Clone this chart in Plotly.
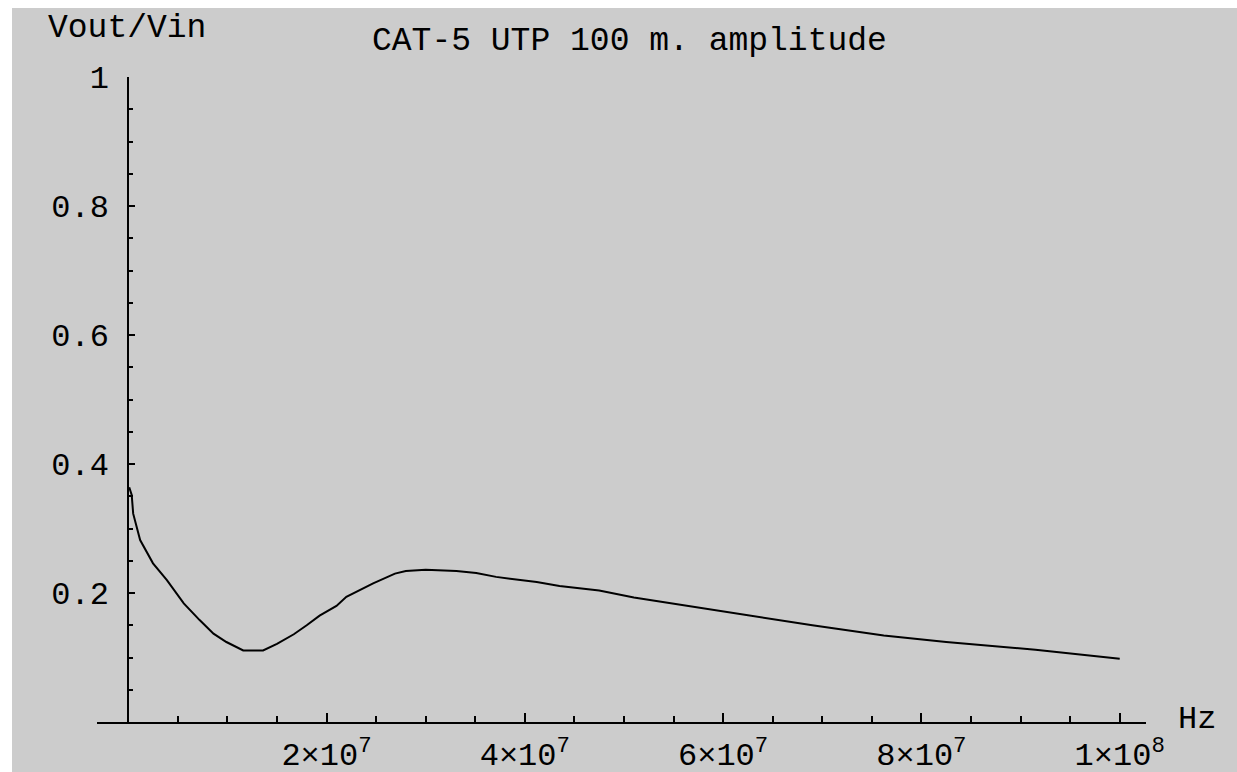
import plotly.graph_objects as go

# ---- data ----
freq_mhz = [0.1, 0.35, 0.5, 0.85, 1.2, 2.5, 3.9, 5.6, 7.2, 8.6, 9.9, 11.6, 13.6,
            15.0, 16.7, 18.0, 19.3, 21.0, 22.0, 24.7, 26.9, 28.0, 30.0, 33.1,
            35.1, 37.1, 41.2, 43.5, 47.5, 51.0, 56.4, 62.7, 69.0, 76.2, 82.5,
            91.5, 100.0]
amplitude = [0.364, 0.352, 0.323, 0.302, 0.282, 0.246, 0.220, 0.184, 0.158,
             0.137, 0.124, 0.111, 0.111, 0.121, 0.136, 0.150, 0.165, 0.180,
             0.194, 0.215, 0.230, 0.234, 0.236, 0.234, 0.231, 0.225, 0.217,
             0.211, 0.204, 0.193, 0.180, 0.164, 0.150, 0.134, 0.124, 0.112,
             0.098]

x_tick_vals = [2e7, 4e7, 6e7, 8e7, 1e8]
x_tick_text = ["2×10<sup>7</sup>", "4×10<sup>7</sup>", "6×10<sup>7</sup>",
               "8×10<sup>7</sup>", "1×10<sup>8</sup>"]
y_tick_vals = [0.2, 0.4, 0.6, 0.8, 1.0]
y_tick_text = ["0.2", "0.4", "0.6", "0.8", "1"]

title_text = "CAT-5 UTP 100 m. amplitude"
y_label = "Vout/Vin"
x_label = "Hz"

freq_hz = [f * 1e6 for f in freq_mhz]

# ---- layout geometry ----
W, H = 1237, 772
L, R, T, B = 97, 91, 77, 50
PW, PH = W - L - R, H - T - B
X_MIN, X_MAX = -3.15e6, 1.0265e8

def px_x(p):
    return (p - L) / PW

def px_y(p):
    return 1 - (p - T) / PH

FONT = "Liberation Mono"
BG = "#cccccc"

fig = go.Figure()
fig.add_trace(go.Scatter(x=freq_hz, y=amplitude, mode="lines",
                         line=dict(color="black", width=2), showlegend=False,
                         hoverinfo="skip"))

fig.update_layout(
    width=W, height=H,
    margin=dict(l=L, r=R, t=T, b=B, pad=0, autoexpand=False),
    paper_bgcolor=BG, plot_bgcolor=BG,
    font=dict(family=FONT, size=32, color="black"),
    showlegend=False,
    xaxis=dict(
        range=[X_MIN, X_MAX], showgrid=False, zeroline=False, automargin=False,
        showline=True, linecolor="black", linewidth=2,
        tickmode="array", tickvals=x_tick_vals, ticktext=x_tick_text,
        ticks="inside", ticklen=9, tickwidth=1.5, tickcolor="black",
        ticklabelstandoff=3,
        tickfont=dict(family=FONT, size=32, color="black"),
        minor=dict(ticks="inside", ticklen=6, tickwidth=1.5, tickcolor="black",
                   tickmode="linear", tick0=0, dtick=5e6, showgrid=False),
        fixedrange=True,
    ),
    yaxis=dict(
        range=[0, 1], showgrid=False, zeroline=False, automargin=False,
        showline=True, linecolor="black", linewidth=2,
        anchor="free", position=(0 - X_MIN) / (X_MAX - X_MIN),
        tickmode="array", tickvals=y_tick_vals, ticktext=y_tick_text,
        ticks="inside", ticklen=6, tickwidth=1.5, tickcolor="black",
        ticklabelstandoff=12,
        tickfont=dict(family=FONT, size=32, color="black"),
        minor=dict(ticks="inside", ticklen=4, tickwidth=1.5, tickcolor="black",
                   tickmode="linear", tick0=0, dtick=0.05, showgrid=False),
        fixedrange=True,
    ),
)

# white frame strips at top and left of the picture
fig.add_shape(type="rect", xref="paper", yref="paper", layer="above",
              x0=px_x(0), x1=px_x(W), y0=px_y(0), y1=px_y(8),
              fillcolor="white", line=dict(width=0))
fig.add_shape(type="rect", xref="paper", yref="paper", layer="above",
              x0=px_x(0), x1=px_x(12), y0=px_y(0), y1=px_y(H),
              fillcolor="white", line=dict(width=0))

fig.add_annotation(text=y_label, xref="paper", yref="paper",
                   x=px_x(46), y=px_y(28), xanchor="left", yanchor="middle",
                   showarrow=False, font=dict(family=FONT, size=33, color="black"))
fig.add_annotation(text=title_text, xref="paper", yref="paper",
                   x=px_x(629), y=px_y(42), xanchor="center", yanchor="middle",
                   showarrow=False, font=dict(family=FONT, size=33, color="black"))
fig.add_annotation(text=x_label, xref="paper", yref="paper",
                   x=px_x(1176), y=px_y(719), xanchor="left", yanchor="middle",
                   showarrow=False, font=dict(family=FONT, size=32, color="black"))

fig.write_html("out.html", config=dict(displayModeBar=False),
               post_script="document.body.style.margin='0';document.body.style.overflow='hidden';")
